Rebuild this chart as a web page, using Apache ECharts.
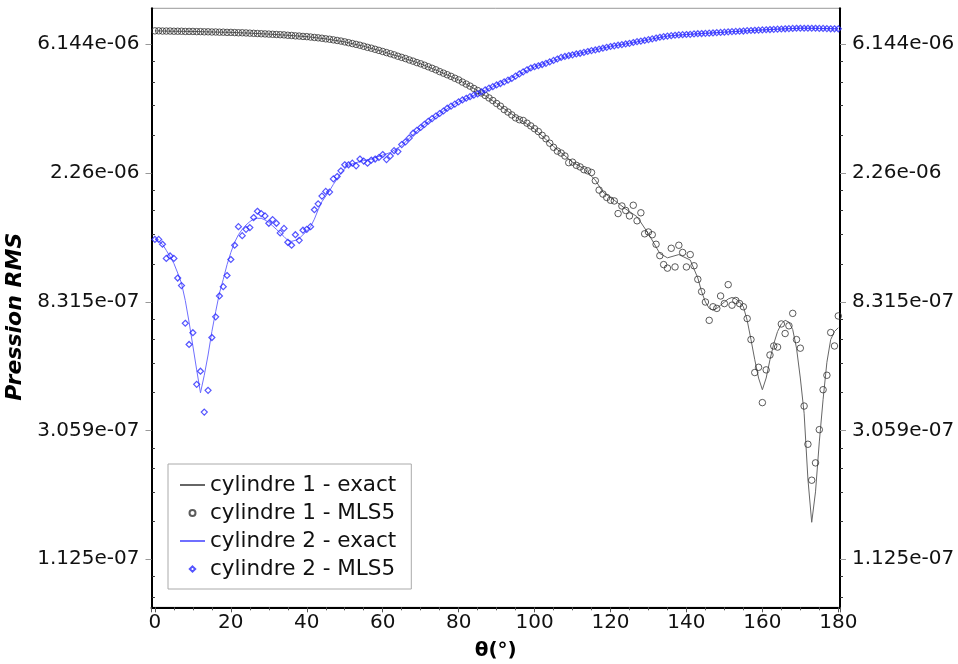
<!DOCTYPE html>
<html><head><meta charset="utf-8">
<script src="https://cdn.jsdelivr.net/npm/echarts@6/dist/echarts.min.js"></script>
<style>html,body{margin:0;padding:0;background:#fff}#c{width:958px;height:664px}</style>
</head><body><div id="c"></div>
<script>
const seriesNames = ['cylindre 1 - exact', 'cylindre 1 - MLS5', 'cylindre 2 - exact', 'cylindre 2 - MLS5'];
const xAxisTitle = 'θ(°)';
const yAxisTitle = 'Pression RMS';

const angles = [0,1,2,3,4,5,6,7,8,9,10,11,12,13,14,15,16,17,18,19,20,21,22,23,24,25,26,27,28,29,30,31,32,33,34,35,36,37,38,39,40,41,42,43,44,45,46,47,48,49,50,51,52,53,54,55,56,57,58,59,60,61,62,63,64,65,66,67,68,69,70,71,72,73,74,75,76,77,78,79,80,81,82,83,84,85,86,87,88,89,90,91,92,93,94,95,96,97,98,99,100,101,102,103,104,105,106,107,108,109,110,111,112,113,114,115,116,117,118,119,120,121,122,123,124,125,126,127,128,129,130,131,132,133,134,135,136,137,138,139,140,141,142,143,144,145,146,147,148,149,150,151,152,153,154,155,156,157,158,159,160,161,162,163,164,165,166,167,168,169,170,171,172,173,174,175,176,177,178,179,180];

const c1Mls = [
6.82e-6,6.82e-6,6.81e-6,6.81e-6,6.81e-6,6.80e-6,6.80e-6,6.80e-6,6.79e-6,6.79e-6,
6.79e-6,6.78e-6,6.78e-6,6.77e-6,6.77e-6,6.76e-6,6.76e-6,6.75e-6,6.75e-6,6.74e-6,
6.74e-6,6.73e-6,6.72e-6,6.72e-6,6.71e-6,6.70e-6,6.69e-6,6.68e-6,6.67e-6,6.66e-6,
6.65e-6,6.64e-6,6.63e-6,6.62e-6,6.61e-6,6.59e-6,6.58e-6,6.56e-6,6.55e-6,6.53e-6,
6.52e-6,6.50e-6,6.48e-6,6.46e-6,6.44e-6,6.41e-6,6.39e-6,6.36e-6,6.33e-6,6.30e-6,
6.26e-6,6.22e-6,6.18e-6,6.14e-6,6.10e-6,6.05e-6,6.00e-6,5.96e-6,5.91e-6,5.86e-6,
5.81e-6,5.76e-6,5.71e-6,5.66e-6,5.60e-6,5.55e-6,5.50e-6,5.44e-6,5.39e-6,5.33e-6,
5.28e-6,5.22e-6,5.16e-6,5.10e-6,5.04e-6,4.97e-6,4.91e-6,4.85e-6,4.79e-6,4.72e-6,
4.66e-6,4.58e-6,4.51e-6,4.44e-6,4.36e-6,4.29e-6,4.21e-6,4.13e-6,4.05e-6,3.97e-6,
3.88e-6,3.80e-6,3.70e-6,3.63e-6,3.55e-6,3.47e-6,3.42e-6,3.40e-6,3.33e-6,3.26e-6,
3.19e-6,3.12e-6,3.03e-6,2.95e-6,2.85e-6,2.76e-6,2.68e-6,2.64e-6,2.58e-6,2.45e-6,
2.46e-6,2.40e-6,2.37e-6,2.32e-6,2.30e-6,2.27e-6,2.13e-6,1.98e-6,1.92e-6,1.87e-6,
1.83e-6,1.82e-6,1.65e-6,1.75e-6,1.69e-6,1.62e-6,1.76e-6,1.56e-6,1.66e-6,1.41e-6,
1.43e-6,1.40e-6,1.30e-6,1.19e-6,1.11e-6,1.08e-6,1.26e-6,1.09e-6,1.29e-6,1.22e-6,
1.09e-6,1.20e-6,1.10e-6,9.9e-7,9.0e-7,8.3e-7,7.2e-7,8.0e-7,7.9e-7,8.7e-7,
8.2e-7,9.5e-7,8.1e-7,8.4e-7,8.2e-7,8.0e-7,7.3e-7,6.2e-7,4.8e-7,5.0e-7,
3.8e-7,4.9e-7,5.5e-7,5.9e-7,5.85e-7,7.0e-7,6.5e-7,6.9e-7,7.6e-7,6.2e-7,
5.8e-7,3.7e-7,2.75e-7,2.08e-7,2.38e-7,3.08e-7,4.2e-7,4.7e-7,6.55e-7,5.9e-7,
7.45e-7];

const c2Mls = [
1.35e-6,1.35e-6,1.30e-6,1.165e-6,1.187e-6,1.165e-6,1.00e-6,9.43e-7,7.04e-7,5.97e-7,
6.54e-7,4.38e-7,4.85e-7,3.53e-7,4.18e-7,6.3e-7,7.4e-7,8.7e-7,9.35e-7,1.02e-6,
1.155e-6,1.29e-6,1.49e-6,1.39e-6,1.46e-6,1.48e-6,1.60e-6,1.68e-6,1.65e-6,1.62e-6,
1.53e-6,1.575e-6,1.53e-6,1.42e-6,1.47e-6,1.32e-6,1.29e-6,1.40e-6,1.34e-6,1.45e-6,
1.46e-6,1.49e-6,1.70e-6,1.78e-6,1.89e-6,1.96e-6,1.95e-6,2.16e-6,2.20e-6,2.30e-6,
2.41e-6,2.41e-6,2.44e-6,2.39e-6,2.52e-6,2.48e-6,2.44e-6,2.50e-6,2.52e-6,2.55e-6,
2.61e-6,2.51e-6,2.58e-6,2.69e-6,2.67e-6,2.82e-6,2.88e-6,2.97e-6,3.08e-6,3.15e-6,
3.22e-6,3.30e-6,3.38e-6,3.45e-6,3.52e-6,3.59e-6,3.66e-6,3.74e-6,3.80e-6,3.86e-6,
3.93e-6,3.99e-6,4.04e-6,4.09e-6,4.14e-6,4.18e-6,4.25e-6,4.31e-6,4.37e-6,4.42e-6,
4.48e-6,4.53e-6,4.59e-6,4.65e-6,4.71e-6,4.80e-6,4.88e-6,4.96e-6,5.04e-6,5.11e-6,
5.16e-6,5.20e-6,5.25e-6,5.30e-6,5.36e-6,5.42e-6,5.48e-6,5.55e-6,5.59e-6,5.63e-6,
5.66e-6,5.70e-6,5.73e-6,5.77e-6,5.81e-6,5.85e-6,5.88e-6,5.92e-6,5.96e-6,6.00e-6,
6.04e-6,6.07e-6,6.10e-6,6.13e-6,6.16e-6,6.19e-6,6.23e-6,6.27e-6,6.30e-6,6.33e-6,
6.37e-6,6.41e-6,6.45e-6,6.49e-6,6.52e-6,6.55e-6,6.57e-6,6.59e-6,6.61e-6,6.62e-6,
6.63e-6,6.64e-6,6.66e-6,6.67e-6,6.68e-6,6.69e-6,6.70e-6,6.71e-6,6.73e-6,6.74e-6,
6.75e-6,6.77e-6,6.78e-6,6.79e-6,6.80e-6,6.81e-6,6.83e-6,6.84e-6,6.85e-6,6.86e-6,
6.87e-6,6.88e-6,6.89e-6,6.90e-6,6.91e-6,6.92e-6,6.93e-6,6.94e-6,6.95e-6,6.96e-6,
6.96e-6,6.96e-6,6.96e-6,6.96e-6,6.96e-6,6.95e-6,6.95e-6,6.94e-6,6.93e-6,6.93e-6,
6.93e-6];

const c1ExactAngles = [0,5,10,15,20,25,30,35,40,45,50,55,60,65,70,75,80,85,90,95,100,105,110,113,116,118,121,124,127,130,133,135,138,141,143,144,145,146,147,148,149,150,151,152,153,154,155,156,157,158,159,160,161,162,163,164,165,166,167,168,169,170,171,172,173,174,175,176,177,178,179,180];
const c1ExactValues = [6.82e-6,6.80e-6,6.79e-6,6.76e-6,6.74e-6,6.70e-6,6.65e-6,6.59e-6,6.52e-6,6.41e-6,6.26e-6,6.05e-6,5.81e-6,5.55e-6,5.28e-6,4.97e-6,4.66e-6,4.29e-6,3.88e-6,3.50e-6,3.18e-6,2.78e-6,2.46e-6,2.34e-6,2.14e-6,1.95e-6,1.83e-6,1.71e-6,1.61e-6,1.41e-6,1.21e-6,1.17e-6,1.20e-6,1.15e-6,1.00e-6,9.0e-7,8.3e-7,7.9e-7,7.8e-7,7.9e-7,8.1e-7,8.3e-7,8.5e-7,8.6e-7,8.5e-7,8.3e-7,8.0e-7,7.2e-7,6.2e-7,5.3e-7,4.6e-7,4.2e-7,4.6e-7,5.3e-7,6.0e-7,6.6e-7,7.0e-7,7.2e-7,7.1e-7,6.7e-7,5.8e-7,4.6e-7,3.5e-7,2.1e-7,1.5e-7,1.9e-7,2.8e-7,3.9e-7,5.2e-7,6.2e-7,6.6e-7,6.8e-7];

const c2ExactAngles = [0,1,2,3,4,5,6,7,8,9,10,11,12,13,14,15,16,17,18,19,20,21,22,23,24,25,26,27,28,29,30,31,32,33,34,35,36,37,38,39,40,41,42,43,44,45,46,47,48,49,50,51,52,53,54,55,57,60,62,65,70,75,80,85,90,95,100,105,110,115,120,125,130,135,140,145,150,155,160,165,170,175,180];
const c2ExactValues = [1.36e-6,1.33e-6,1.30e-6,1.24e-6,1.18e-6,1.12e-6,1.04e-6,9.6e-7,8.4e-7,7.1e-7,5.9e-7,4.9e-7,4.1e-7,4.7e-7,5.5e-7,6.6e-7,7.7e-7,8.9e-7,9.9e-7,1.11e-6,1.22e-6,1.32e-6,1.40e-6,1.46e-6,1.51e-6,1.55e-6,1.58e-6,1.59e-6,1.59e-6,1.57e-6,1.54e-6,1.50e-6,1.46e-6,1.42e-6,1.38e-6,1.34e-6,1.33e-6,1.34e-6,1.36e-6,1.40e-6,1.44e-6,1.49e-6,1.58e-6,1.70e-6,1.81e-6,1.89e-6,1.97e-6,2.07e-6,2.16e-6,2.26e-6,2.34e-6,2.40e-6,2.43e-6,2.45e-6,2.47e-6,2.49e-6,2.52e-6,2.60e-6,2.65e-6,2.80e-6,3.22e-6,3.59e-6,3.93e-6,4.18e-6,4.48e-6,4.80e-6,5.16e-6,5.42e-6,5.66e-6,5.85e-6,6.04e-6,6.19e-6,6.37e-6,6.55e-6,6.63e-6,6.69e-6,6.75e-6,6.81e-6,6.87e-6,6.92e-6,6.96e-6,6.95e-6,6.93e-6];

function pairs(xs, ys) { return xs.map((x, i) => [x, ys[i]]); }
function fmtExp(v) {
  const s = Number(v).toExponential(3);
  const parts = s.split('e');
  let m = parts[0];
  if (m.indexOf('.') >= 0) m = m.replace(/0+$/, '').replace(/\.$/, '');
  const sign = parts[1][0] === '-' ? '-' : '+';
  let d = parts[1].replace(/^[-+]/, '');
  if (d.length < 2) d = '0' + d;
  return m + 'e' + sign + d;
}

// Linear minor subdivisions (5 parts) between successive powers of e, as on the original axis
const Y_MIN = 7.751e-8, Y_MAX = 8.126e-6;
const minorVals = [];
for (let n = -17; n <= -12; n++) {
  const a = Math.exp(n), b = Math.exp(n + 1);
  for (let k = 1; k < 5; k++) {
    const v = a + k * (b - a) / 5;
    if (v > Y_MIN && v < Y_MAX) minorVals.push(v);
  }
}

const FONT = 'DejaVu Sans';
const chart = echarts.init(document.getElementById('c'), null, { renderer: 'canvas' });

function yAxisCfg(pos, withName) {
  const a = {
    type: 'log', logBase: Math.E, position: pos,
    min: Y_MIN, max: Y_MAX,
    axisLine: { show: true, onZero: false, lineStyle: { color: '#000', width: 2 } },
    axisTick: { show: true, inside: false, length: 6, lineStyle: { color: '#999', width: 1 } },
    minorTick: { show: false },
    axisLabel: { formatter: fmtExp, fontSize: 20, fontFamily: FONT, color: '#111', margin: 12, showMinLabel: false, showMaxLabel: false },
    splitLine: { show: false },
    minorSplitLine: { show: false }
  };
  if (withName) {
    a.name = yAxisTitle;
    a.nameLocation = 'middle';
    a.nameGap = 112;
    a.nameTextStyle = { fontSize: 22, fontWeight: 'bold', fontStyle: 'italic', fontFamily: FONT, color: '#000', padding: [0, 18, 0, 0] };
  }
  return a;
}
function yMinorAxisCfg(pos) {
  return {
    type: 'log', logBase: Math.E, position: pos,
    min: Y_MIN, max: Y_MAX,
    axisLine: { show: false },
    axisTick: { show: true, inside: false, length: 3, customValues: minorVals, lineStyle: { color: '#333', width: 1 } },
    axisLabel: { show: false },
    splitLine: { show: false }
  };
}

const option = {
  animation: false,
  backgroundColor: '#fff',
  grid: { left: 151.5, right: 118, top: 8.3, bottom: 56.7, containLabel: false, outerBoundsMode: 'none', show: true, borderColor: '#999', borderWidth: 1 },
  xAxis: {
    type: 'value', min: -0.9, max: 180.45, splitNumber: 9,
    name: xAxisTitle, nameLocation: 'middle', nameGap: 33,
    nameTextStyle: { fontSize: 20, fontWeight: 'bold', fontFamily: FONT, color: '#000' },
    axisLine: { show: true, onZero: false, lineStyle: { color: '#000', width: 2 } },
    axisTick: { show: true, length: 5, lineStyle: { color: '#555', width: 1 } },
    minorTick: { show: true, splitNumber: 4, length: 3, lineStyle: { color: '#555', width: 1 } },
    axisLabel: { fontSize: 20, fontFamily: FONT, color: '#111', margin: 5, showMinLabel: false, showMaxLabel: false },
    splitLine: { show: false }
  },
  yAxis: [yAxisCfg('left', true), yAxisCfg('right', false), yMinorAxisCfg('left'), yMinorAxisCfg('right')],
  legend: {
    orient: 'vertical', left: 168, top: 464,
    padding: [10, 15, 9, 11], itemGap: 6, itemWidth: 25, itemHeight: 6,
    borderColor: '#aaa', borderWidth: 1, backgroundColor: '#fff',
    textStyle: { fontSize: 21.5, fontFamily: FONT, color: '#111', lineHeight: 21 },
    data: [
      { name: seriesNames[0], itemStyle: { opacity: 0 } },
      { name: seriesNames[1] },
      { name: seriesNames[2], itemStyle: { opacity: 0 } },
      { name: seriesNames[3], icon: 'path://M0,0 M25,6 M12.5,0.4 L15.2,3 L12.5,5.6 L9.8,3 Z' }
    ]
  },
  series: [
    { name: seriesNames[0], type: 'line', data: pairs(c1ExactAngles, c1ExactValues), symbol: 'none', z: 2,
      lineStyle: { color: '#666', width: 1 }, itemStyle: { color: '#666' } },
    { name: seriesNames[2], type: 'line', data: pairs(c2ExactAngles, c2ExactValues), symbol: 'none', z: 2,
      lineStyle: { color: '#6f6fff', width: 1 }, itemStyle: { color: '#6f6fff' } },
    { name: seriesNames[1], type: 'scatter', data: pairs(angles, c1Mls), symbol: 'circle', symbolSize: 6.5, z: 3,
      itemStyle: { color: 'rgba(255,255,255,0)', borderColor: '#333', borderWidth: 1 } },
    { name: seriesNames[3], type: 'scatter', data: pairs(angles, c2Mls), symbol: 'diamond', symbolSize: 6, z: 3,
      itemStyle: { color: 'rgba(255,255,255,0)', borderColor: '#2a2aff', borderWidth: 1.2 } }
  ]
};
chart.setOption(option);
</script>
</body></html>
